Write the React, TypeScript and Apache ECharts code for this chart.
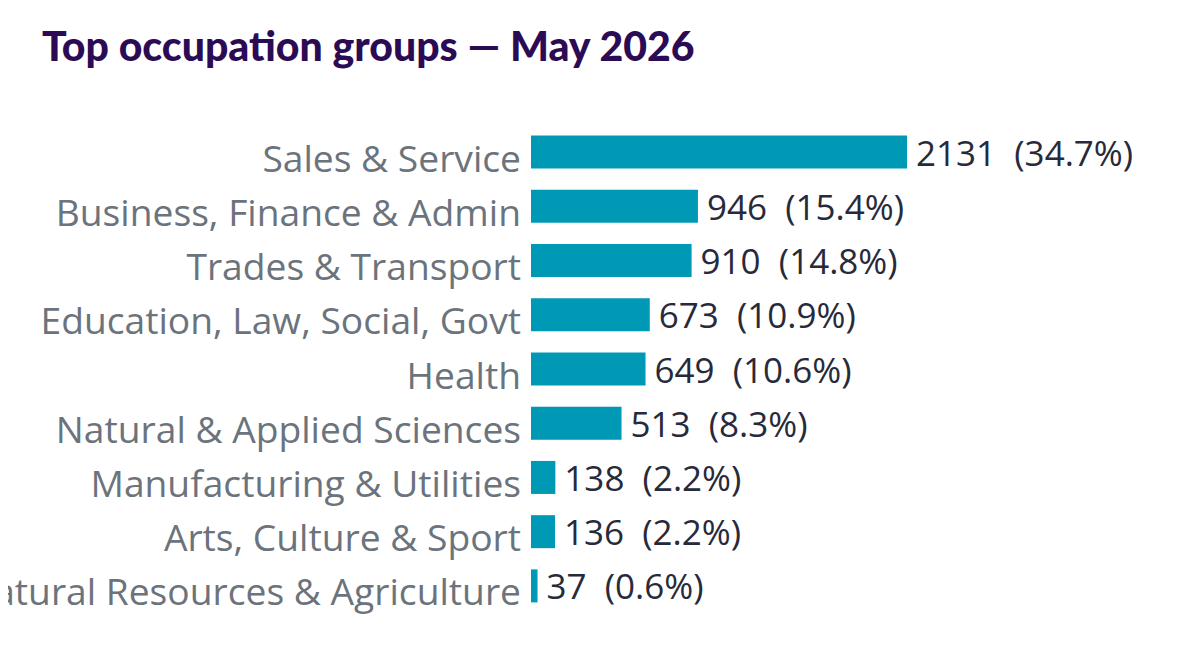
import React, { useEffect, useRef } from "react";
import * as echarts from "echarts";

const categories = [
  "Sales & Service",
  "Business, Finance & Admin",
  "Trades & Transport",
  "Education, Law, Social, Govt",
  "Health",
  "Natural & Applied Sciences",
  "Manufacturing & Utilities",
  "Arts, Culture & Sport",
  "Natural Resources & Agriculture",
];
const counts = [2131, 946, 910, 673, 649, 513, 138, 136, 37];
const shares = ["34.7", "15.4", "14.8", "10.9", "10.6", "8.3", "2.2", "2.2", "0.6"];

export default function App() {
  const ref = useRef<HTMLDivElement>(null);
  useEffect(() => {
    if (!ref.current) return;
    const chart = echarts.init(ref.current, null, { renderer: "svg" });
    chart.setOption({
      animation: false,
      backgroundColor: "#ffffff",
      title: {
        text: "Top occupation groups — May 2026",
        left: 37,
        top: 20,
        textStyle: {
          fontFamily: "Lato",
          fontWeight: 900,
          fontSize: 41,
          color: "#2c0b55",
        },
      },
      grid: {
        left: 531,
        right: 49,
        top: 125,
        bottom: 47,
        containLabel: false,
        outerBoundsMode: "none",
      },
      xAxis: {
        type: "value",
        min: 0,
        max: 3400,
        show: false,
      },
      yAxis: {
        type: "category",
        inverse: true,
        data: categories,
        axisLine: { show: false },
        axisTick: { show: false },
        axisLabel: {
          margin: 10,
          overflow: "none",
          // a thin spacer line above the name nudges it slightly below the bar centre
          formatter: (v: string) => `{s| }\n{n|${v}}`,
          rich: {
            s: { fontSize: 1, lineHeight: 10 },
            n: {
              fontFamily: "Open Sans",
              fontSize: 37.2,
              lineHeight: 44,
              color: "#6b737c",
            },
          },
        },
      },
      series: [
        {
          type: "bar",
          data: counts,
          barWidth: 33,
          itemStyle: { color: "#0099b5" },
          label: {
            show: true,
            position: "right",
            distance: 9,
            fontFamily: "Open Sans",
            fontSize: 35,
            color: "#272a3a",
            formatter: (p: any) => `${counts[p.dataIndex]}  (${shares[p.dataIndex]}%)`,
          },
        },
      ],
    });
    return () => chart.dispose();
  }, []);
  return <div ref={ref} style={{ width: 1180, height: 660, margin: -8 }} />;
}
